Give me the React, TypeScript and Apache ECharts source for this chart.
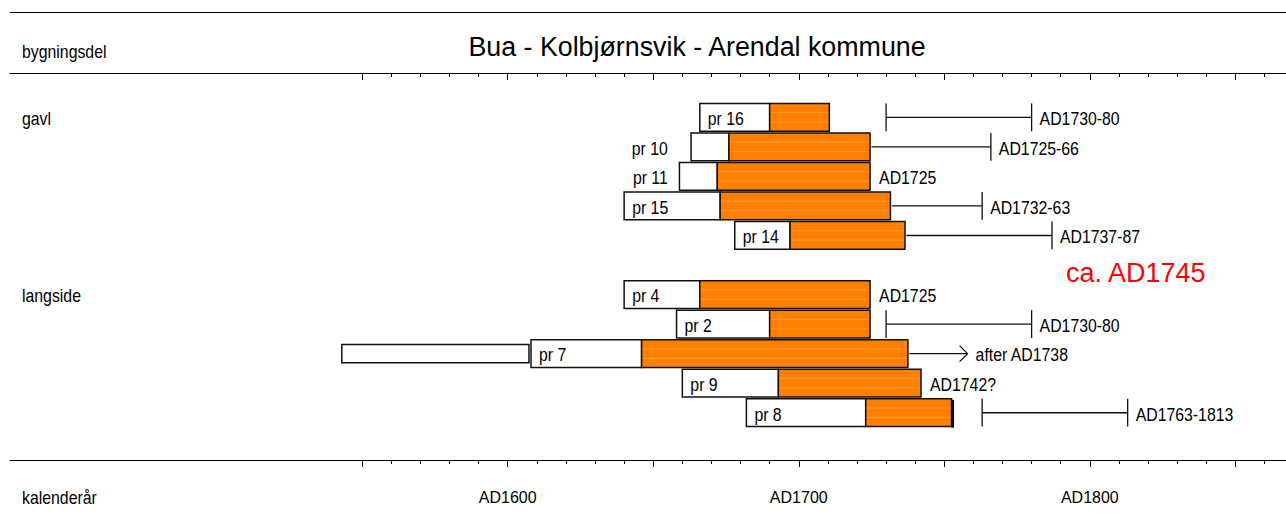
import React, { useEffect, useRef } from 'react';
import * as echarts from 'echarts';

// ---------- data ----------
const TITLE = 'Bua - Kolbjørnsvik - Arendal kommune';
const ROW_HEADER = 'bygningsdel';
const AXIS_HEADER = 'kalenderår';
const DATE_NOTE = 'ca. AD1745';

const groupNames = ['gavl', 'langside'];
const groupRows = [1, 7];

const samples = ['pr 16', 'pr 10', 'pr 11', 'pr 15', 'pr 14', 'pr 4', 'pr 2', 'pr 7', 'pr 9', 'pr 8'];
const sampleRows = [1, 2, 3, 4, 5, 7, 8, 9, 10, 11];
const firstRing = [1666, 1663, 1659, 1640, 1678, 1640, 1658, 1608, 1660, 1682];
const sapwoodStart = [1690, 1676, 1672, 1673, 1697, 1666, 1690, 1646, 1693, 1723];
const lastRing = [1710.5, 1724.5, 1724.5, 1731.5, 1736.5, 1724.5, 1724.5, 1737.5, 1742, 1752.5];
const rangeFrom: (number | null)[] = [1730, 1725, null, 1732, 1737, null, 1730, 1738, null, 1763];
const rangeTo: (number | null)[] = [1780, 1766, null, 1763, 1787, null, 1780, 1758, null, 1813];
const openEnded = [false, false, false, false, false, false, false, true, false, false];
const barkEdge = [false, false, false, false, false, false, false, false, false, true];
const dateLabels = ['AD1730-80', 'AD1725-66', 'AD1725', 'AD1732-63', 'AD1737-87', 'AD1725', 'AD1730-80', 'after AD1738', 'AD1742?', 'AD1763-1813'];

// unconnected early segment
const segSampleIndex = [7];
const segStart = [1543];
const segEnd = [1607.3];

const majorTicks = [1550, 1600, 1650, 1700, 1750, 1800, 1850];
const minorTicks = [1550, 1560, 1570, 1580, 1590, 1600, 1610, 1620, 1630, 1640, 1650, 1660, 1670, 1680, 1690, 1700, 1710, 1720, 1730, 1740, 1750, 1760, 1770, 1780, 1790, 1800, 1810, 1820, 1830, 1840, 1850, 1860];
const axisLabelYears = [1600, 1700, 1800];

// ---------- style ----------
const FONT = '"Liberation Sans", Arial, Helvetica, sans-serif';
const ORANGE = '#ff8000';
const X_MIN = 1429;
const X_MAX = 1867.4;
const OUTSIDE_LABEL_YEAR = 1655;
const SMALL = 18;
const SQUEEZE = 0.88;

function txt(x: number, y: number, text: string, align: string, size = SMALL, color = '#000', sx = SQUEEZE) {
  return {
    type: 'text',
    x,
    y,
    scaleX: sx,
    style: {
      text,
      fill: color,
      fontSize: size,
      fontFamily: FONT,
      align,
      verticalAlign: 'middle',
      textAlign: align,
      textVerticalAlign: 'middle',
    },
  };
}

export default function App() {
  const ref = useRef<HTMLDivElement>(null);

  useEffect(() => {
    if (!ref.current) return;
    const chart = echarts.init(ref.current, undefined, { renderer: 'svg' });

    const barData = samples.map((_, i) => [firstRing[i], sampleRows[i], sapwoodStart[i], lastRing[i], i]);
    const segData = segSampleIndex.map((si, k) => [segStart[k], sampleRows[si], segEnd[k]]);
    const groupData = groupRows.map((r, i) => [X_MIN, r, i]);

    const renderBar = (params: any, api: any) => {
      const i = api.value(4);
      const row = api.value(1);
      const p0 = api.coord([api.value(0), row]);
      const ps = api.coord([api.value(2), row]);
      const p1 = api.coord([api.value(3), row]);
      const rowH = api.size([0, 1])[1];
      const h = rowH * 0.94;
      const cy = p0[1];
      const top = cy - h / 2;
      const children: any[] = [];
      children.push({
        type: 'rect',
        shape: { x: p0[0], y: top, width: ps[0] - p0[0], height: h },
        style: { fill: '#fff', stroke: '#111', lineWidth: 1.5 },
      });
      children.push({
        type: 'rect',
        shape: { x: ps[0], y: top, width: p1[0] - ps[0], height: h },
        style: { fill: ORANGE, stroke: '#111', lineWidth: 1.5 },
      });
      [0.33, 0.67].forEach((f) => {
        children.push({
          type: 'line',
          shape: { x1: ps[0] + 1, y1: top + h * f, x2: p1[0] - 1, y2: top + h * f },
          style: { stroke: 'rgba(255,170,100,0.5)', lineWidth: 1 },
        });
      });
      if (barkEdge[i]) {
        children.push({
          type: 'line',
          shape: { x1: p1[0] + 1, y1: top + 1, x2: p1[0] + 1, y2: top + h + 1 },
          style: { stroke: '#000', lineWidth: 3 },
        });
      }
      // sample label
      const ty = cy + 2;
      if (ps[0] - p0[0] > 50) {
        children.push(txt(p0[0] + 8, ty, samples[i], 'left'));
      } else {
        const ax = api.coord([OUTSIDE_LABEL_YEAR, row])[0];
        children.push(txt(ax, ty, samples[i], 'right'));
      }
      // felling date range
      let labelX = p1[0] + 9;
      const rf = rangeFrom[i];
      const rt = rangeTo[i];
      if (rf != null && rt != null) {
        const xf = Math.max(api.coord([rf, row])[0], p1[0]);
        const xt = api.coord([rt, row])[0];
        children.push({
          type: 'line',
          shape: { x1: xf, y1: cy, x2: xt, y2: cy },
          style: { stroke: '#111', lineWidth: 1.3 },
        });
        if (rf - lastRing[i] > 2) {
          children.push({
            type: 'line',
            shape: { x1: xf, y1: top, x2: xf, y2: top + h },
            style: { stroke: '#111', lineWidth: 1.3 },
          });
        }
        if (openEnded[i]) {
          children.push({
            type: 'polyline',
            shape: { points: [[xt - 8, cy - 8], [xt, cy], [xt - 8, cy + 8]] },
            style: { stroke: '#111', lineWidth: 1.3, fill: null },
          });
        } else {
          children.push({
            type: 'line',
            shape: { x1: xt, y1: top, x2: xt, y2: top + h },
            style: { stroke: '#111', lineWidth: 1.3 },
          });
        }
        labelX = xt + 8;
      }
      children.push(txt(labelX, ty, dateLabels[i], 'left'));
      return { type: 'group', children };
    };

    const renderSeg = (params: any, api: any) => {
      const row = api.value(1);
      const a = api.coord([api.value(0), row]);
      const b = api.coord([api.value(2), row]);
      const h = api.size([0, 1])[1] * 0.62;
      return {
        type: 'rect',
        shape: { x: a[0], y: a[1] - h / 2, width: b[0] - a[0], height: h },
        style: { fill: '#fff', stroke: '#111', lineWidth: 1.5 },
      };
    };

    const renderGroup = (params: any, api: any) => {
      const i = api.value(2);
      const p = api.coord([api.value(0), api.value(1)]);
      return txt(22, p[1] + 2, groupNames[i], 'left');
    };

    const axisBase = {
      type: 'value',
      min: X_MIN,
      max: X_MAX,
      splitLine: { show: false },
    };

    chart.setOption({
      animation: false,
      backgroundColor: '#fff',
      grid: { left: 10, right: 0, top: 73, bottom: 53, containLabel: false },
      xAxis: [
        {
          ...axisBase,
          position: 'bottom',
          axisLine: { show: true, onZero: false, lineStyle: { color: '#000', width: 1 } },
          axisTick: { show: true, customValues: majorTicks, length: 7, lineStyle: { color: '#000', width: 1 } },
          axisLabel: {
            show: true,
            customValues: axisLabelYears,
            formatter: (v: number) => 'AD' + v,
            margin: 29,
            fontSize: 16,
            fontFamily: FONT,
            color: '#000',
          },
        },
        {
          ...axisBase,
          position: 'bottom',
          axisLine: { show: false, onZero: false },
          axisTick: { show: true, customValues: minorTicks, length: 4, lineStyle: { color: '#000', width: 1 } },
          axisLabel: { show: false },
        },
        {
          ...axisBase,
          position: 'top',
          axisLine: { show: true, onZero: false, lineStyle: { color: '#000', width: 1 } },
          axisTick: { show: true, inside: true, customValues: majorTicks, length: 7, lineStyle: { color: '#000', width: 1 } },
          axisLabel: { show: false },
        },
        {
          ...axisBase,
          position: 'top',
          axisLine: { show: false, onZero: false },
          axisTick: { show: true, inside: true, customValues: minorTicks, length: 4, lineStyle: { color: '#000', width: 1 } },
          axisLabel: { show: false },
        },
      ],
      yAxis: {
        type: 'value',
        inverse: true,
        min: -0.5,
        max: 12.6,
        show: false,
        splitLine: { show: false },
      },
      graphic: [
        { type: 'line', shape: { x1: 10, y1: 12.5, x2: 1286, y2: 12.5 }, style: { stroke: '#000', lineWidth: 1 } },
        txt(697, 47, TITLE, 'center', 26.8, '#000', 1),
        txt(22, 52, ROW_HEADER, 'left'),
        txt(22, 498, AXIS_HEADER, 'left'),
        txt(1066, 273, DATE_NOTE, 'left', 27, '#ff0000', 1),
      ],
      series: [
        { type: 'custom', name: 'segments', xAxisIndex: 0, yAxisIndex: 0, data: segData, renderItem: renderSeg, silent: true, clip: false },
        { type: 'custom', name: 'samples', xAxisIndex: 0, yAxisIndex: 0, data: barData, renderItem: renderBar, silent: true, clip: false },
        { type: 'custom', name: 'groups', xAxisIndex: 0, yAxisIndex: 0, data: groupData, renderItem: renderGroup, silent: true, clip: false },
      ],
    });

    return () => chart.dispose();
  }, []);

  return (
    <div
      ref={ref}
      style={{ position: 'fixed', left: 0, top: 0, width: 1286, height: 513, background: '#fff' }}
    />
  );
}
